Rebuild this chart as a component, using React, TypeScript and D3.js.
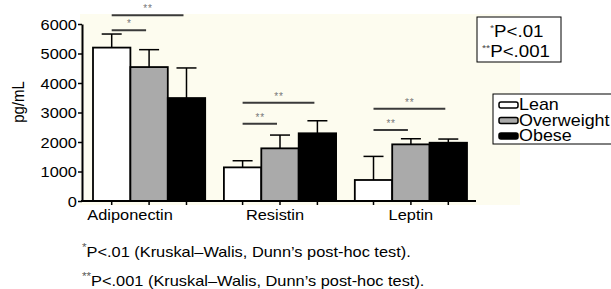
import React, { useRef, useEffect } from 'react';
import * as d3 from 'd3';

// values (pg/mL), error bars are upper SD only
const categories = ['Adiponectin', 'Resistin', 'Leptin'];
const groups = ['Lean', 'Overweight', 'Obese'];
const leanMean = [5200, 1140, 712];
const leanSD = [460, 225, 800];
const overweightMean = [4540, 1785, 1920];
const overweightSD = [590, 450, 190];
const obeseMean = [3490, 2295, 1975];
const obeseSD = [1020, 425, 125];
const yTicks = [0, 1000, 2000, 3000, 4000, 5000, 6000];

// significance brackets
const bracketCat = ['Adiponectin', 'Adiponectin', 'Resistin', 'Resistin', 'Leptin', 'Leptin'];
const bracketFrom = ['Lean', 'Lean', 'Lean', 'Lean', 'Lean', 'Lean'];
const bracketTo = ['Overweight', 'Obese', 'Overweight', 'Obese', 'Overweight', 'Obese'];
const bracketLevel = [5790, 6300, 2620, 3330, 2410, 3130];
const bracketLabel = ['*', '**', '**', '**', '**', '**'];

const fills = { Lean: '#ffffff', Overweight: '#aaaaaa', Obese: '#000000' };
const FONT = '"Liberation Sans", Arial, Helvetica, sans-serif';
const SX = 1.17; // the figure is a bit wider than tall, stretch text too

const W = 611;
const H = 289;

export default function App() {
  const yAxisRef = useRef<SVGGElement>(null);

  const x0 = d3.scaleBand().domain(categories).range([93, 467]).paddingInner(0.143).paddingOuter(0);
  const x1 = d3.scaleBand().domain(groups).range([0, x0.bandwidth()]).padding(0);
  const y = d3.scaleLinear().domain([0, 6000]).range([201, 24]);

  const means = [leanMean, overweightMean, obeseMean];
  const sds = [leanSD, overweightSD, obeseSD];
  const bars = categories.flatMap((c, ci) =>
    groups.map((g, gi) => ({ cat: c, group: g, mean: means[gi][ci], sd: sds[gi][ci] }))
  );

  const cx = (cat: string, g: string) => (x0(cat) as number) + (x1(g) as number) + x1.bandwidth() / 2;

  useEffect(() => {
    const g = d3.select(yAxisRef.current);
    g.call(d3.axisLeft(y).tickValues(yTicks).tickSize(4).tickSizeOuter(0).tickFormat(d3.format('d')));
    g.select('.domain').attr('stroke-width', 2);
    g.selectAll('.tick line').attr('stroke-width', 1.5);
    g.selectAll('.tick text')
      .attr('x', -4.3)
      .attr('dy', '0.36em')
      .attr('transform', `scale(${SX},1)`)
      .attr('font-size', 14)
      .attr('font-family', FONT)
      .attr('fill', '#000');
  }, []);

  const capW = 20;

  return (
    <svg width={W} height={H} style={{ position: 'absolute', left: 0, top: 0 }} fontFamily={FONT}>
      <rect x={0} y={0} width={W} height={H} fill="#fff" />
      <rect x={80} y={14} width={440} height={191} fill="#fdfcef" />

      {/* bars */}
      {bars.map((b, i) => (
        <rect
          key={'bar' + i}
          x={(x0(b.cat) as number) + (x1(b.group) as number)}
          y={y(b.mean)}
          width={x1.bandwidth()}
          height={y(0) - y(b.mean)}
          fill={fills[b.group as keyof typeof fills]}
          stroke="#000"
          strokeWidth={1.8}
        />
      ))}

      {/* error bars */}
      {bars.map((b, i) => {
        const c = cx(b.cat, b.group);
        return (
          <g key={'err' + i} stroke="#000" strokeWidth={1.5}>
            <line x1={c} x2={c} y1={y(b.mean)} y2={y(b.mean + b.sd)} />
            <line x1={c - capW / 2} x2={c + capW / 2} y1={y(b.mean + b.sd)} y2={y(b.mean + b.sd)} />
          </g>
        );
      })}

      {/* significance lines */}
      {bracketCat.map((c, i) => {
        const xa = cx(c, bracketFrom[i]);
        const xb = cx(c, bracketTo[i]) - 3;
        const yy = y(bracketLevel[i]);
        return (
          <g key={'sig' + i}>
            <line x1={xa} x2={xb} y1={yy} y2={yy} stroke="#3a3a3a" strokeWidth={2} />
            <text x={(xa + xb) / 2} y={yy - 3} textAnchor="middle" fontSize={10} fill="#777">
              {bracketLabel[i].split('').join('\u200a')}
            </text>
          </g>
        );
      })}

      {/* x axis */}
      <line x1={81} x2={476} y1={y(0)} y2={y(0)} stroke="#000" strokeWidth={2} />
      {bars.map((b, i) => {
        const c = cx(b.cat, b.group);
        return <line key={'xt' + i} x1={c} x2={c} y1={y(0)} y2={y(0) + 4} stroke="#000" strokeWidth={1.5} />;
      })}
      {categories.map((c, i) => {
        const shift = [-19, -5, 0][i];
        const xc = (x0(c) as number) + x0.bandwidth() / 2 + shift;
        return (
          <text key={'cl' + i} transform={`translate(${xc},220) scale(${SX},1)`} textAnchor="middle" fontSize={14}>
            {c}
          </text>
        );
      })}

      {/* y axis */}
      <g ref={yAxisRef} transform="translate(82,0)" />
      <text transform="translate(24,102) rotate(-90) scale(1,1.12)" textAnchor="middle" fontSize={15}>
        pg/mL
      </text>

      {/* P value box */}
      <rect x={477} y={17} width={84} height={45} fill="#fff" stroke="#000" strokeWidth={1} />
      <text transform={`translate(490,37) scale(${SX},1)`} fontSize={16}>
        <tspan fontSize={9} dy={-6} fill="#444">*</tspan>
        <tspan dy={6}>P&lt;.01</tspan>
      </text>
      <text transform={`translate(482,57) scale(${SX},1)`} fontSize={16}>
        <tspan fontSize={9} dy={-6} fill="#444">**</tspan>
        <tspan dy={6}>P&lt;.001</tspan>
      </text>

      {/* series legend */}
      <rect x={493} y={94} width={130} height={50} fill="#fff" stroke="#000" strokeWidth={1} />
      {groups.map((g, i) => {
        const base = 110 + i * 15.5;
        return (
          <g key={'lg' + i}>
            <rect x={499} y={base - 8} width={19} height={6} rx={2} fill={fills[g as keyof typeof fills]} stroke="#000" strokeWidth={1.5} />
            <text transform={`translate(519,${base}) scale(1.12,1)`} fontSize={16}>
              {g}
            </text>
          </g>
        );
      })}

      {/* footnotes */}
      <text transform={`translate(82,257) scale(${SX},1)`} fontSize={14}>
        <tspan fontSize={10} dy={-6} fill="#555">*</tspan>
        <tspan dy={6}>P&lt;.01 (Kruskal–Walis, Dunn’s post-hoc test).</tspan>
      </text>
      <text transform={`translate(82,286) scale(${SX},1)`} fontSize={14}>
        <tspan fontSize={10} dy={-6} fill="#555">**</tspan>
        <tspan dy={6}>P&lt;.001 (Kruskal–Walis, Dunn’s post-hoc test).</tspan>
      </text>
    </svg>
  );
}
